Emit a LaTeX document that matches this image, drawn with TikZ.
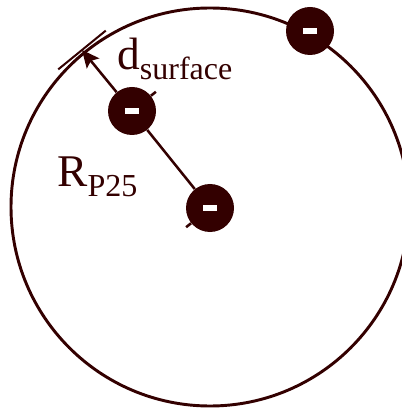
\documentclass[tikz,border=0pt]{standalone}
\usepackage{fontspec}
\setmainfont{Liberation Serif}
\usetikzlibrary{arrows.meta,calc}
\definecolor{inkmaroon}{RGB}{51,0,0}
\newcommand{\chargesign}{\textcolor{white}{\rule[-2.25pt]{10.5pt}{4.5pt}}}
\newcommand{\sublabel}[2]{{\fontsize{34}{40}\selectfont #1}\raisebox{-7.5pt}{\fontsize{24}{28}\selectfont #2}}

\begin{document}
\begin{tikzpicture}[x=0.75pt,y=-0.75pt,
 charge/.style={circle,fill=inkmaroon,inner sep=0pt,minimum size=36pt},
 wire/.style={draw=inkmaroon,line width=1.9pt},
 lbl/.style={anchor=base west,inner sep=0pt,text=inkmaroon}]
\useasboundingbox (0,0) rectangle (401,409);
\coordinate (o) at (210,207);
\draw[inkmaroon,line width=2.2pt] (o) circle[radius=199];
\node[charge] (c) at (210,208) {\chargesign};
\node[charge] (p) at (132,111) {\chargesign};
\node[charge] (q) at (310,31) {\chargesign};
\coordinate (s) at (82,50);
\coordinate (ctick) at ($(c.center)!23pt!90:(p.center)$);
\coordinate (ptick) at ($(p.center)!23pt!90:(c.center)$);
\coordinate (sa) at ($(s)!23pt!90:(o)$);
\coordinate (sb) at ($(s)!23pt!-90:(o)$);
\draw[wire] (c) -- (p);
\draw[wire,-{Stealth[length=13pt,width=12pt,inset=2.5pt]}] (p) -- (s);
\draw[wire] (c) -- (ctick);
\draw[wire] (p) -- (ptick);
\draw[wire,line width=1.5pt] (sa) -- (sb);
\node[lbl] (dlab) at (117,70) {\sublabel{d}{surface}};
\node[lbl] (rlab) at (57,187) {\sublabel{R}{P25}};
\end{tikzpicture}
\end{document}
